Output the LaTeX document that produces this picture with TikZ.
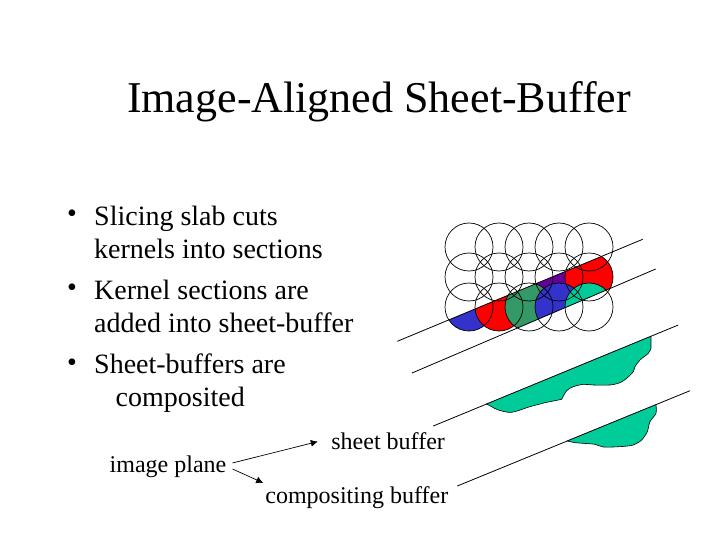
\documentclass[tikz,border=0pt]{standalone}
\usepackage{fontspec}
\setmainfont{Liberation Serif}
\usepackage{xcolor}
\usetikzlibrary{arrows.meta,positioning,calc}
\definecolor{sheetgreen}{HTML}{00CC99}
\definecolor{kernelblue}{HTML}{3333CC}
\definecolor{kernelgreen}{HTML}{339966}
\definecolor{kernelpurple}{HTML}{660099}
\tikzset{
  bullettext/.style={anchor=base west,inner sep=0pt,font=\fontsize{28}{28}\selectfont},
  labeltext/.style={anchor=base west,inner sep=3pt,font=\fontsize{24}{24}\selectfont},
  slabline/.style={line width=0.8pt},
  pointer/.style={line width=0.7pt,-{Latex[length=7pt,width=7pt]}},
  sheetshape/.style={fill=sheetgreen,draw=black,line width=0.6pt}
}
\newcommand{\slabpiece}[3]{%
  \begin{scope}
    \clip (slabA) -- (slabB) -- (slabC) -- (slabD) -- cycle;
    \fill[#1] (#2,#3) circle (24);
  \end{scope}}
\begin{document}
\begin{tikzpicture}[x=1pt,y=-1pt]
    \useasboundingbox (0,0) rectangle (720,540);
    % title
    \node[anchor=base,inner sep=0pt,font=\fontsize{44}{44}\selectfont] (title) at (379,112.7) {Image-Aligned Sheet-Buffer};
    % bullets
    \node[bullettext] (dot1) at (67,222.8) {\textbullet};
    \node[bullettext] (line1) at (94,225.3) {Slicing slab cuts};
    \node[bullettext] (line2) at (94,258.7) {kernels into sections};
    \node[bullettext] (dot2) at (67,296.8) {\textbullet};
    \node[bullettext] (line3) at (94,299.3) {Kernel sections are};
    \node[bullettext] (line4) at (94,332.7) {added into sheet-buffer};
    \node[bullettext] (dot3) at (67,371.2) {\textbullet};
    \node[bullettext] (line5) at (94,373.3) {Sheet-buffers are};
    \node[bullettext] (line6) at (115.5,406) {composited};
    % slab edges
    \coordinate (slabA) at (397.3,341.3);
    \coordinate (slabB) at (642.7,239.3);
    \coordinate (slabC) at (655.7,269);
    \coordinate (slabD) at (412,373);
    % kernel sections
    \slabpiece{kernelpurple}{559}{277}
    \slabpiece{red}{589}{277}
    \slabpiece{kernelblue}{469}{307}
    \slabpiece{red}{499}{307}
    \slabpiece{kernelgreen}{529}{307}
    \slabpiece{kernelblue}{559}{307}
    \slabpiece{sheetgreen}{589}{307}
    % kernels
    \foreach \x in {469,499,529,559,589}
      \foreach \y in {247,277,307}
        \draw[line width=0.7pt] (\x,\y) circle (24);
    \draw[slabline] (slabA) -- (slabB);
    \draw[slabline] (slabD) -- (slabC);
    % sheet buffer
    \coordinate (sheetA) at (433.3,426);
    \coordinate (sheetB) at (678.3,325);
    \draw[slabline] (sheetA) -- (sheetB);
    \begin{scope}[shift={(420,320)},x=0.3333pt,y=-0.3333pt]
      \draw[sheetshape] (200,252) -- (693,49) -- (693,85)
        -- plot[smooth] coordinates {(693,85) (685,100) (660,120) (645,140) (640,155) (620,175) (600,188) (570,195) (520,195) (490,193) (460,200) (440,212) (425,238)}
        -- (380,247)
        -- plot[smooth] coordinates {(380,247) (330,260) (275,277) (235,270) (215,260) (200,252)} -- cycle;
    \end{scope}
    % compositing buffer
    \coordinate (compA) at (457.3,486);
    \coordinate (compB) at (690,390.7);
    \draw[slabline] (compA) -- (compB);
    \begin{scope}[shift={(420,320)},x=0.3333pt,y=-0.3333pt]
      \draw[sheetshape] (442,363) -- (708,254)
        -- plot[smooth] coordinates {(708,254) (708,280) (690,305) (682,335) (665,360) (640,375) (600,380) (550,381) (525,373) (490,370) (465,368) (442,363)} -- cycle;
    \end{scope}
    % labels
    \node[labeltext] (imageplane) at (106.5,472.7) {image plane};
    \node[labeltext] (sheetbuffer) at (328.2,449.3) {sheet buffer};
    \node[labeltext] (compbuffer) at (262.2,503.7) {compositing buffer};
    \draw[pointer,shorten >=10.7pt] ([xshift=3pt,yshift=4pt]imageplane.east) -- ([yshift=2pt]sheetbuffer.west);
    \draw[pointer] ([xshift=3pt,yshift=-2pt]imageplane.east) -- ([xshift=1pt,yshift=0.7pt]compbuffer.north west);
\end{tikzpicture}
\end{document}
